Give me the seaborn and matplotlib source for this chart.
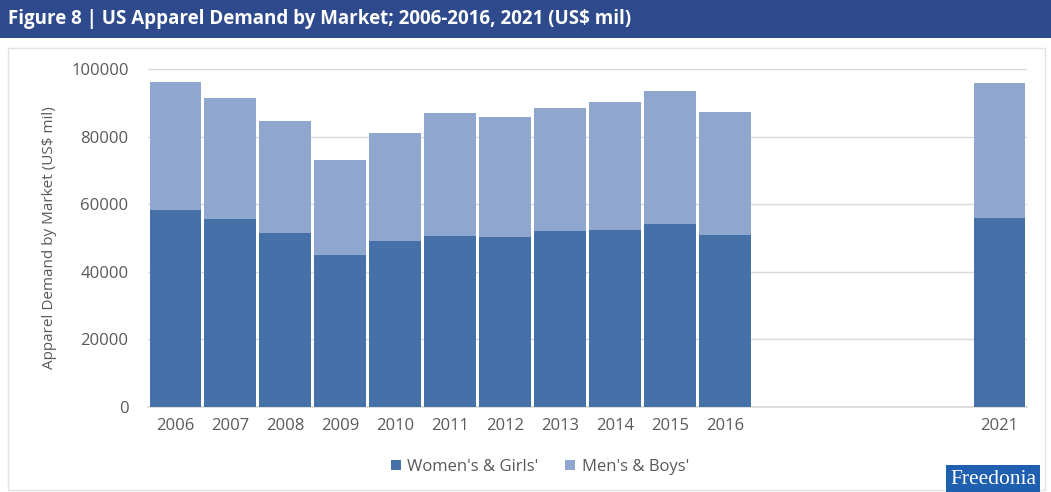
import matplotlib
matplotlib.use("Agg")
import matplotlib.pyplot as plt
from matplotlib.patches import Rectangle, Patch
import seaborn as sns
import pandas as pd
import numpy as np

years = [2006, 2007, 2008, 2009, 2010, 2011, 2012, 2013, 2014, 2015, 2016, 2021]
women = [58300, 55600, 51500, 45000, 49100, 50600, 50300, 52100, 52400, 54100, 50900, 55900]
men = [37800, 35800, 33100, 28100, 32000, 36400, 35500, 36400, 37800, 39400, 36400, 40000]
tick_years = [2006, 2007, 2008, 2009, 2010, 2011, 2012, 2013, 2014, 2015, 2016, 2021]
series_names = ["Women's & Girls'", "Men's & Boys'"]

c_women = "#4670A8"
c_men = "#8FA7CF"
text_gray = "#595959"

df = pd.DataFrame({"year": years, "women": women, "men": men})
df["total"] = df["women"] + df["men"]

sns.set_theme(style="white")
plt.rcParams["font.family"] = ["Open Sans", "DejaVu Sans"]

fig = plt.figure(figsize=(10.51, 4.92), dpi=100)
fig.patch.set_facecolor("white")

# title band
fig.patches.append(Rectangle((0, 1 - 38 / 492), 1, 38 / 492, transform=fig.transFigure,
                             facecolor="#2E4A8D", edgecolor="none", zorder=0))
fig.text(8 / 1051, 1 - 19 / 492, "Figure 8 | US Apparel Demand by Market; 2006-2016, 2021 (US$ mil)",
         color="white", fontsize=13.5, fontweight="bold", va="center", ha="left")
# chart frame
fig.patches.append(Rectangle((8 / 1051, 2 / 492), 1037 / 1051, 442 / 492, transform=fig.transFigure,
                             facecolor="none", edgecolor="#E3E3E3", lw=1, zorder=0))

ax = fig.add_axes([148 / 1051, 85 / 492, 879 / 1051, 338 / 492])

sns.barplot(data=df, x="year", y="total", native_scale=True, color=c_men, width=0.945,
            saturation=1, ax=ax, zorder=2, edgecolor="none")
sns.barplot(data=df, x="year", y="women", native_scale=True, color=c_women, width=0.945,
            saturation=1, ax=ax, zorder=3, edgecolor="none")

ax.set_xlim(2005.5, 2021.5)
ax.set_ylim(0, 100000)
ax.set_yticks(np.arange(0, 100001, 20000))
ax.set_xticks(tick_years)
ax.set_xticklabels([str(y) for y in tick_years])
ax.yaxis.grid(True, color="#D9D9D9", lw=1)
ax.set_axisbelow(True)
for s in ["top", "right", "left"]:
    ax.spines[s].set_visible(False)
ax.spines["bottom"].set_color("#D9D9D9")
ax.tick_params(axis="both", colors=text_gray, labelsize=12, length=0)
ax.tick_params(axis="y", pad=14)
ax.tick_params(axis="x", pad=8)
ax.set_xlabel("")
ax.set_ylabel("Apparel Demand by Market (US$ mil)", color=text_gray, fontsize=11, labelpad=10)

handles = [Patch(facecolor=c_women, edgecolor="none"), Patch(facecolor=c_men, edgecolor="none")]
fig.legend(handles, series_names, loc="center", bbox_to_anchor=(540 / 1051, 1 - 467 / 492),
           ncol=2, frameon=False, fontsize=12, handlelength=0.6, handleheight=0.6,
           handletextpad=0.4, columnspacing=1.6, labelcolor=text_gray)

fig.text(993 / 1051, 1 - 479 / 492, "Freedonia", family=["Liberation Serif", "DejaVu Serif"],
         color="white", fontsize=15.5, ha="center", va="center",
         bbox=dict(boxstyle="square,pad=0.2", facecolor="#1F5FAF", edgecolor="none"))

fig.savefig("out.png", dpi=100)
